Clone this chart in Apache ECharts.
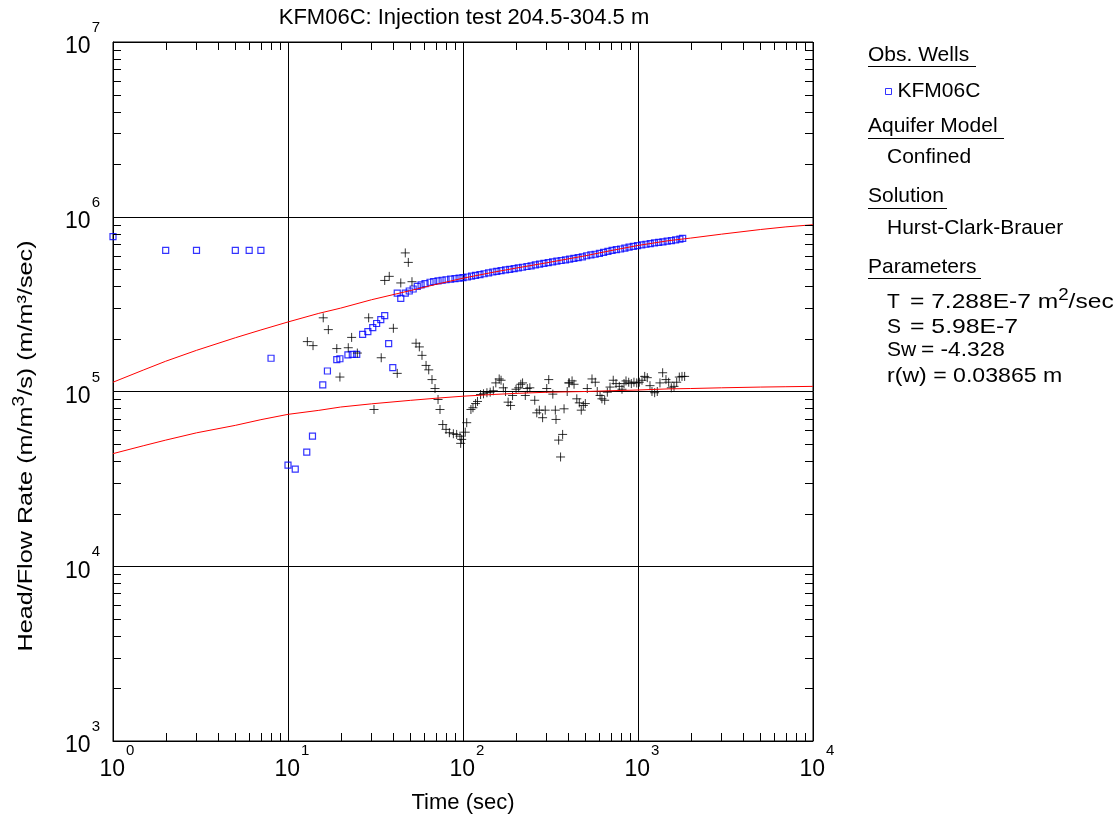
<!DOCTYPE html>
<html><head><meta charset="utf-8">
<script src="https://cdn.jsdelivr.net/npm/echarts@6/dist/echarts.min.js"></script>
<style>html,body{margin:0;padding:0;background:#fff}#c{width:1120px;height:821px}</style>
</head><body><div id="c"></div>
<script>
// ---- Data ----
const obsTime = [1, 2, 3, 5, 6, 7, 8, 10, 11, 12.8, 13.8, 15.8, 16.8, 19, 19.8, 22, 23.3, 24.7, 26.7, 28.6, 30.5, 32.1, 33.9, 35.7, 37.6, 39.7,
  42.1, 44.1, 46.8, 49.3, 51.9, 54.8, 57.6, 60.7, 64.8, 68, 72, 76, 80, 85, 90, 95, 100, 106, 112, 118, 125, 132, 140, 148, 156, 165,
  175, 185, 196, 207, 219, 232, 245, 259, 274, 290, 307, 325, 344, 364, 385, 407, 430, 455, 481, 509, 538, 569, 602, 636, 673, 711,
  752, 795, 841, 889, 940, 994, 1051, 1111, 1175, 1242, 1313, 1388, 1468, 1552, 1641, 1735, 1800];
const obsHead = [7.7e5, 6.42e5, 6.42e5, 6.42e5, 6.42e5, 6.42e5, 1.55e5, 3.79e4, 3.6e4, 4.5e4, 5.56e4, 1.09e5, 1.31e5, 1.52e5, 1.54e5, 1.62e5, 1.63e5,
  1.63e5, 2.12e5, 2.2e5, 2.32e5, 2.45e5, 2.58e5, 2.72e5, 1.88e5, 1.37e5,
  3.66e5, 3.41e5, 3.66e5, 3.76e5, 3.86e5, 4.0e5, 4.07e5, 4.14e5, 4.22e5, 4.26e5, 4.3e5, 4.33e5, 4.36e5, 4.4e5, 4.43e5, 4.46e5,
  4.48e5, 4.52e5, 4.57e5, 4.62e5, 4.67e5, 4.72e5, 4.77e5, 4.83e5, 4.87e5, 4.92e5,
  4.96e5, 5.0e5, 5.05e5, 5.1e5, 5.14e5, 5.19e5, 5.24e5, 5.3e5, 5.35e5, 5.41e5,
  5.47e5, 5.52e5, 5.57e5, 5.62e5, 5.67e5, 5.72e5, 5.78e5, 5.84e5, 5.9e5, 5.98e5,
  6.05e5, 6.1e5, 6.17e5, 6.25e5, 6.33e5, 6.42e5, 6.48e5, 6.54e5, 6.62e5, 6.7e5,
  6.77e5, 6.84e5, 6.9e5, 6.96e5, 7.02e5, 7.08e5, 7.13e5, 7.18e5, 7.25e5, 7.3e5,
  7.37e5, 7.45e5, 7.52e5];

const derivTime = [12.9, 13.9, 15.9, 17.0, 19.0, 19.8, 22.1, 23.1, 24.9, 28.9,
  31.0, 34.1, 35.7, 37.9, 40.0, 42.1, 44.1, 46.8, 48.7, 51.1,
  53.9, 56.3, 58.3, 61.5, 63.7, 66.5, 69.2, 72.0, 73.9, 76.6,
  80.0, 83.6, 88.1, 92.0, 96.1, 98.3, 97.0, 103, 105, 111,
  114, 118, 121, 126, 131, 137, 143, 149, 154, 161,
  165, 170, 175, 181, 187, 192, 201, 208, 214, 219,
  227, 233, 241, 257, 264, 273, 285, 295, 301, 309,
  326, 337, 340, 352, 361, 371, 378, 394, 402, 405,
  420, 431, 447, 462, 474, 487, 500, 513, 546, 570,
  585, 607, 622, 645, 668, 692, 722, 749, 782, 810,
  832, 854, 885, 916, 948, 983, 1017, 1054, 1092, 1130,
  1171, 1202, 1245, 1289, 1335, 1383, 1445, 1497, 1550, 1606,
  1664, 1722, 1784, 1847];
const derivHead = [1.93e5, 1.83e5, 2.64e5, 2.26e5, 1.76e5, 1.21e5, 1.78e5, 2.04e5, 1.66e5, 2.64e5,
  7.89e4, 1.56e5, 4.32e5, 4.56e5, 2.30e5, 1.27e5, 4.18e5, 6.21e5, 5.48e5, 4.25e5,
  1.89e5, 1.80e5, 1.61e5, 1.41e5, 1.33e5, 1.17e5, 1.04e5, 9.0e4, 7.89e4, 6.47e4,
  6.07e4, 5.81e4, 5.73e4, 5.68e4, 5.55e4, 5.32e4, 5.05e4, 5.85e4, 6.63e4, 7.89e4,
  8.07e4, 8.53e4, 8.77e4, 9.61e4, 9.70e4, 9.84e4, 9.91e4, 1.01e5, 1.12e5, 1.18e5,
  1.16e5, 1.05e5, 1.0e5, 8.69e4, 8.32e4, 9.49e4, 1.03e5, 1.05e5, 1.10e5, 1.12e5,
  9.49e4, 1.04e5, 1.05e5, 8.91e4, 7.55e4, 7.82e4, 7.08e4, 7.82e4, 1.04e5, 1.17e5,
  9.66e4, 7.82e4, 6.92e4, 5.27e4, 4.22e4, 5.68e4, 7.96e4, 1.0e5, 1.12e5, 1.12e5,
  1.15e5, 1.10e5, 9.08e4, 8.61e4, 7.82e4, 8.32e4, 8.53e4, 1.04e5, 1.18e5, 1.13e5,
  1.0e5, 9.49e4, 9.08e4, 8.91e4, 9.91e4, 1.06e5, 1.16e5, 1.11e5, 1.07e5, 1.03e5,
  1.11e5, 1.15e5, 1.13e5, 1.11e5, 1.13e5, 1.12e5, 1.13e5, 1.16e5, 1.22e5, 1.20e5,
  1.08e5, 1.0e5, 9.84e4, 1.0e5, 1.12e5, 1.28e5, 1.17e5, 1.13e5, 1.05e5, 1.07e5,
  1.13e5, 1.21e5, 1.22e5, 1.22e5];

const fitTime = [1, 1.5, 2, 3, 5, 7, 10, 15, 20, 30, 50, 70, 100, 150, 200, 300, 500, 700, 1000, 1500, 2000, 3000, 5000, 7000, 10000];
const fitHead = [1.13e5, 1.33e5, 1.49e5, 1.72e5, 2.03e5, 2.25e5, 2.5e5, 2.8e5, 3.0e5, 3.35e5, 3.78e5, 4.1e5, 4.45e5, 4.82e5, 5.08e5,
  5.45e5, 5.98e5, 6.4e5, 6.85e5, 7.3e5, 7.55e5, 7.95e5, 8.45e5, 8.75e5, 9.0e5];
const fitDeriv = [4.41e4, 4.9e4, 5.27e4, 5.8e4, 6.4e4, 6.9e4, 7.4e4, 7.8e4, 8.15e4, 8.5e4, 8.9e4, 9.15e4, 9.4e4, 9.62e4, 9.75e4,
  9.9e4, 1.0e5, 1.01e5, 1.02e5, 1.035e5, 1.04e5, 1.05e5, 1.06e5, 1.065e5, 1.07e5];

const xDecades = [0, 1, 2, 3];        // minor ticks inside each decade of time axis
const yDecades = [3, 4, 5, 6];        // minor ticks inside each decade of value axis
const minorMult = [2, 3, 4, 5, 6, 7, 8, 9];
const titleText = 'KFM06C: Injection test 204.5-304.5 m';

// ---- Chart ----
const F = '"Liberation Sans", Arial, Helvetica, sans-serif';
const chart = echarts.init(document.getElementById('c'), null, {renderer: 'canvas'});

const xMinor = [];
xDecades.forEach(d => minorMult.forEach(m => xMinor.push([m * Math.pow(10, d), 1000])));
const yMinor = [];
yDecades.forEach(d => minorMult.forEach(m => yMinor.push([1, m * Math.pow(10, d)])));

const tickRich = {
  b: {fontSize: 23, fontFamily: F, color: '#000', padding: [10, 0, 0, 9]},
  s: {fontSize: 15, fontFamily: F, color: '#000', padding: [0, 1, 28, 1]}
};
const expLabel = v => '{b|10}{s|' + Math.round(Math.log10(v)) + '}';
const TL = 8;

function txt(x, y, text, extra, sx) {
  return Object.assign({type: 'text', x: x, y: y, silent: true, scaleX: sx || 1,
    style: {text: text, fontSize: 21, fontFamily: F, fill: '#000', align: 'left', verticalAlign: 'middle'}}, extra || {});
}
function ul(x1, x2, y) {
  return {type: 'line', silent: true, shape: {x1: x1, y1: y + 0.5, x2: x2, y2: y + 0.5}, style: {stroke: '#000', lineWidth: 1}};
}
const supRich = {
  a: {fontSize: 21, fontFamily: F, fill: '#000'},
  s: {fontSize: 16, fontFamily: F, fill: '#000', padding: [0, 0, 12, 0]}
};

chart.setOption({
  animation: false,
  backgroundColor: '#fff',
  grid: {left: 113, right: 307, top: 42, bottom: 80, containLabel: false, outerBoundsMode: 'none',
    show: true, borderColor: '#000', borderWidth: 1, backgroundColor: 'transparent'},
  legend: {
    data: ['KFM06C'], left: 880, top: 76, orient: 'vertical',
    itemWidth: 6, itemHeight: 6, itemGap: 4, icon: 'rect',
    itemStyle: {color: '#fff', borderColor: '#0000ff', borderWidth: 1},
    textStyle: {fontSize: 21, fontFamily: F, color: '#000', padding: [0, 0, 0, 1]},
    selectedMode: false
  },
  xAxis: {
    type: 'log', logBase: 10, min: 1, max: 10000,
    name: 'Time (sec)', nameLocation: 'middle', nameGap: 51,
    nameTextStyle: {fontSize: 22, fontFamily: F, color: '#000'},
    axisLine: {show: true, lineStyle: {color: '#000', width: 1}},
    axisTick: {show: false},
    splitLine: {show: true, lineStyle: {color: '#000', width: 1}},
    axisLabel: {formatter: expLabel, rich: tickRich, margin: 2, color: '#000'}
  },
  yAxis: {
    type: 'log', logBase: 10, min: 1000, max: 1e7,
    axisLine: {show: true, lineStyle: {color: '#000', width: 1}},
    axisTick: {show: false},
    splitLine: {show: true, lineStyle: {color: '#000', width: 1}},
    axisLabel: {formatter: expLabel, rich: tickRich, margin: 12, color: '#000'}
  },
  graphic: [
    {type: 'text', x: 464, y: 18, silent: true,
      style: {text: titleText, fontSize: 22, fontFamily: F, fill: '#000', align: 'center', verticalAlign: 'middle'}},
    {type: 'text', x: 26, y: 446, rotation: Math.PI / 2, scaleX: 1.2, silent: true,
      style: {text: '{a|Head/Flow Rate (m/m}{s|3}{a|/s) (m/m³/sec)}', rich: supRich, align: 'center', verticalAlign: 'middle', fill: '#000'}},
    txt(868, 55, 'Obs. Wells'), ul(868, 976, 66),
    txt(868, 126, 'Aquifer Model'), ul(868, 1004, 138),
    txt(887, 157, 'Confined'),
    txt(868, 196, 'Solution'), ul(868, 947, 208),
    txt(887, 228, 'Hurst-Clark-Brauer'),
    txt(868, 267, 'Parameters'), ul(868, 981, 278),
    txt(887, 302, 'T'),
    {type: 'text', x: 910, y: 302, silent: true, scaleX: 1.17,
      style: {text: '{a|= 7.288E-7 m}{s|2}{a|/sec}', rich: supRich, align: 'left', verticalAlign: 'middle', fill: '#000'}},
    txt(887, 327, 'S'), txt(910, 327, '= 5.98E-7', null, 1.18),
    txt(887, 350, 'Sw'), txt(921, 350, '= -4.328', null, 1.08),
    txt(887, 376, 'r(w) = 0.03865 m', null, 1.1)
  ],
  series: [
    {
      name: 'KFM06C', type: 'scatter', symbol: 'rect', symbolSize: 6,
      itemStyle: {color: 'rgba(255,255,255,0)', borderColor: '#0000ff', borderWidth: 1.2},
      data: obsTime.map((t, i) => [t, obsHead[i]]), z: 3
    },
    {
      name: 'Derivative', type: 'scatter', symbol: 'path://M5,0L5,10M0,5L10,5', symbolSize: 9,
      itemStyle: {color: 'rgba(0,0,0,0)', borderColor: '#000', borderWidth: 1},
      data: derivTime.map((t, i) => [t, derivHead[i]]), z: 3
    },
    {
      name: 'Fit', type: 'line', showSymbol: false, symbol: 'none',
      lineStyle: {color: '#ff0000', width: 1}, data: fitTime.map((t, i) => [t, fitHead[i]]), z: 4
    },
    {
      name: 'Fit derivative', type: 'line', showSymbol: false, symbol: 'none',
      lineStyle: {color: '#ff0000', width: 1}, data: fitTime.map((t, i) => [t, fitDeriv[i]]), z: 4
    },
    {
      name: 'xMinorTicks', type: 'custom', silent: true, data: xMinor, z: 5,
      renderItem: (params, api) => {
        const v = api.value(0);
        const b = api.coord([v, 1e3]);
        const t = api.coord([v, 1e7]);
        const x = Math.round(b[0]) + 0.5;
        return {type: 'group', children: [
          {type: 'line', shape: {x1: x, y1: b[1], x2: x, y2: b[1] - TL}, style: {stroke: '#000', lineWidth: 1}},
          {type: 'line', shape: {x1: x, y1: t[1], x2: x, y2: t[1] + TL}, style: {stroke: '#000', lineWidth: 1}}
        ]};
      }
    },
    {
      name: 'yMinorTicks', type: 'custom', silent: true, data: yMinor, z: 5,
      renderItem: (params, api) => {
        const v = api.value(1);
        const l = api.coord([1, v]);
        const r = api.coord([1e4, v]);
        const y = Math.round(l[1]) + 0.5;
        return {type: 'group', children: [
          {type: 'line', shape: {x1: l[0], y1: y, x2: l[0] + TL, y2: y}, style: {stroke: '#000', lineWidth: 1}},
          {type: 'line', shape: {x1: r[0], y1: y, x2: r[0] - TL, y2: y}, style: {stroke: '#000', lineWidth: 1}}
        ]};
      }
    }
  ]
});
</script>
</body></html>
